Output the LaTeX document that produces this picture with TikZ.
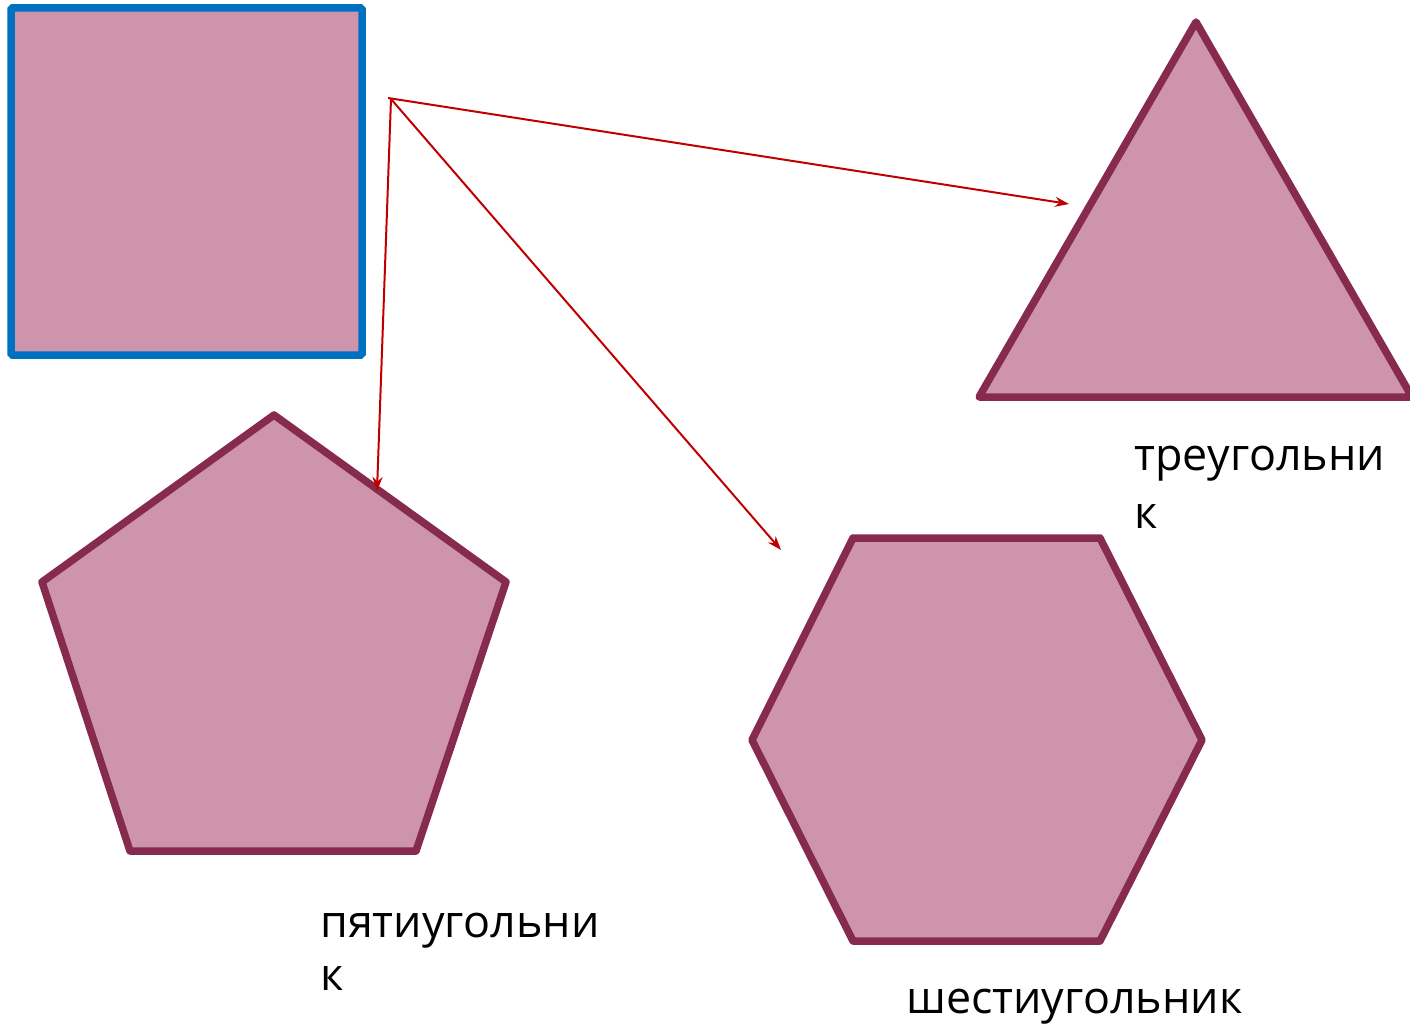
\documentclass[tikz,border=0pt]{standalone}
\usepackage{fontspec}
\setmainfont{Open Sans}
\usetikzlibrary{arrows.meta}
\definecolor{shapefill}{HTML}{CD94AC}
\definecolor{shapeedge}{HTML}{862A4E}
\definecolor{boxblue}{HTML}{0070C0}
\definecolor{arrowred}{HTML}{C00000}
\tikzset{
  poly/.style={fill=shapefill, draw=shapeedge, line width=7.5pt, line join=round},
  sq/.style={fill=shapefill, draw=boxblue, line width=7.5pt, rounded corners=1.5pt},
  conn/.style={draw=arrowred, line width=2pt, -{Stealth[length=14pt,width=10pt]}},
  lbl/.style={anchor=base west, inner sep=0pt, font=\fontsize{44.8}{52}\selectfont}
}
\begin{document}
\begin{tikzpicture}[x=1pt,y=-1pt]
\useasboundingbox (0,0) rectangle (1410,1024);
% square
\draw[sq] (11,8) rectangle (362,355);
% triangle
\draw[poly] (979,397) -- (1196,22) -- (1412,397) -- cycle;
% pentagon
\draw[poly] (274,415) -- (506,582) -- (416,851) -- (130,851) -- (42,582) -- cycle;
% hexagon
\draw[poly] (853,538) -- (1100,538) -- (1202,740) -- (1100,941) -- (853,941) -- (752,740) -- cycle;
% connectors
\coordinate (src) at (391,99);
\coordinate (srcl) at (388,98);
\coordinate (tri) at (1069,204);
\coordinate (pent) at (377,491);
\coordinate (hex) at (781,550);
\draw[conn] (srcl) -- (tri);
\draw[conn] (src) -- (pent);
\draw[conn] (src) -- (hex);
% labels
\node[lbl] (ltri1) at (1134,470) {треугольни};
\node[lbl] (ltri2) at (1134,528) {к};
\node[lbl] (lpent1) at (320,937) {пятиугольни};
\node[lbl] (lpent2) at (320,990) {к};
\node[lbl] (lhex) at (906,1013) {шестиугольник};
\end{tikzpicture}
\end{document}
